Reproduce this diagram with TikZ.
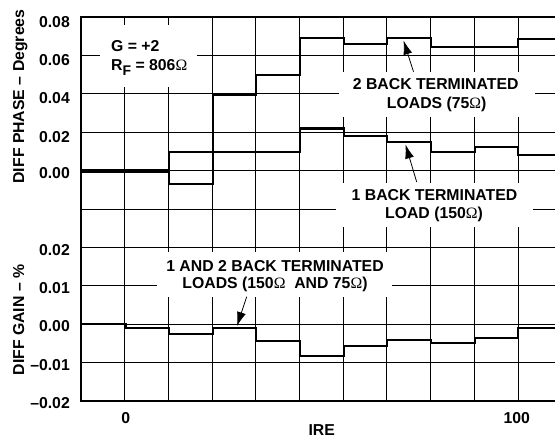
\documentclass[tikz,border=0pt]{standalone}
\usepackage{fontspec}
\setmainfont{Liberation Sans}
\newfontfamily\omfont{Liberation Serif}
\usetikzlibrary{arrows.meta}
\newcommand{\Om}{{\omfont\mdseries Ω}}
\begin{document}
\begin{tikzpicture}[x=1pt,y=-1pt,
  lbl/.style={font=\fontsize{15.8}{18}\selectfont\bfseries, inner sep=0pt},
  gridline/.style={line width=1pt},
  frameline/.style={line width=2.2pt},
  curve/.style={line width=2.2pt, line join=miter},
  whitebox/.style={fill=white, draw=none, inner sep=0pt},
  pointer/.style={line width=0.8pt, -{Latex[length=14pt,width=9pt]}}]
\useasboundingbox (0,0) rectangle (555,437);
\clip (0,0) rectangle (555,437);
% grid
\foreach \k in {1,...,9} \draw[gridline] (81,{17+38.4*\k}) -- (556,{17+38.4*\k});
\foreach \k in {1,...,10} \draw[gridline] ({81+43.7*\k},17) -- ({81+43.7*\k},401);
% white label boxes
\node[whitebox, minimum width=97pt, minimum height=62pt] (gbox) at (148.5,56) {};
\node[whitebox, minimum width=196pt, minimum height=45pt] (box2) at (437,94.2) {};
\node[whitebox, minimum width=197pt, minimum height=44pt] (box1) at (434.5,205) {};
\node[whitebox, minimum width=235pt, minimum height=45pt] (box12) at (274.5,274.5) {};
% curves
\draw[curve] (81,170.3) -- (169,170.3) -- (169,184) -- (213,184) -- (213,94.7) -- (256,94.7) -- (256,75.3) -- (300,75.3) -- (300,38.3) -- (343.7,38.3) -- (343.7,43.7) -- (387.3,43.7) -- (387.3,38.3) -- (431.3,38.3) -- (431.3,46.7) -- (518,46.7) -- (518,39.3) -- (556,39.3);
\draw[curve] (81,172.3) -- (169,172.3) -- (169,151.7) -- (300,151.7) -- (300,127.7) -- (343.7,127.7) -- (343.7,136.3) -- (387.3,136.3) -- (387.3,142.3) -- (431.3,142.3) -- (431.3,151.7) -- (474.7,151.7) -- (474.7,147) -- (518,147) -- (518,154.7) -- (556,154.7);
\draw[curve] (300,128.7) -- (343.7,128.7);
\draw[curve] (81,324.3) -- (126,324.3) -- (126,328.3) -- (169,328.3) -- (169,334.3) -- (213,334.3) -- (213,328.3) -- (256,328.3) -- (256,340.7) -- (300,340.7) -- (300,355.7) -- (343.7,355.7) -- (343.7,346.3) -- (387.3,346.3) -- (387.3,339.7) -- (431.3,339.7) -- (431.3,343.3) -- (474.7,343.3) -- (474.7,338) -- (518,338) -- (518,328.3) -- (556,328.3);
% frame
\draw[frameline] (556,17) -- (81,17) -- (81,401) -- (556,401);
% tick labels
\node[lbl, anchor=base east] (p8) at (70,27.3) {0.08};
\node[lbl, anchor=base east] (p6) at (70,65.2) {0.06};
\node[lbl, anchor=base east] (p4) at (70,103.8) {0.04};
\node[lbl, anchor=base east] (p2) at (70,142.4) {0.02};
\node[lbl, anchor=base east] (p0) at (70,178.6) {0.00};
\node[lbl, anchor=base east] (g2) at (70,255) {0.02};
\node[lbl, anchor=base east] (g1) at (70,293.3) {0.01};
\node[lbl, anchor=base east] (g0) at (70,331.7) {0.00};
\node[lbl, anchor=base east] (gm1) at (70,370) {–0.01};
\node[lbl, anchor=base east] (gm2) at (70,408.3) {–0.02};
\node[lbl, anchor=base] (x0) at (125.7,423) {0};
\node[lbl, anchor=base] (x100) at (516.7,423) {100};
\node[lbl, anchor=base] (xlab) at (321.7,435) {IRE};
\node[lbl, anchor=base, rotate=90] (ylab1) at (24,96.5) {DIFF PHASE – Degrees};
\node[lbl, anchor=base, rotate=90] (ylab2) at (24,320) {DIFF GAIN – \%};
% annotations
\node[lbl, anchor=base west] (gtxt) at (111,51.7) {G = +2};
\node[lbl, anchor=base west] (rtxt) at (111,70) {R\raisebox{-5pt}{\fontsize{14}{14}\selectfont F} = 806\Om};
\node[lbl, anchor=base] (t2a) at (435.7,89.3) {2 BACK TERMINATED};
\node[lbl, anchor=base] (t2b) at (436.7,108.3) {LOADS (75\Om)};
\node[lbl, anchor=base] (t1a) at (434.5,200) {1 BACK TERMINATED};
\node[lbl, anchor=base] (t1b) at (434,218.8) {LOAD (150\Om)};
\node[lbl, anchor=base] (t12a) at (275,271.7) {1 AND 2 BACK TERMINATED};
\node[lbl, anchor=base] (t12b) at (275,288.3) {LOADS (150\Om\ \ AND 75\Om)};
% pointers
\coordinate (a2s) at (413.5,71.7);
\coordinate (a2e) at (403.5,40.5);
\coordinate (a1s) at (416.7,182);
\coordinate (a1e) at (405.5,144.5);
\coordinate (a12s) at (246.7,296.7);
\coordinate (a12e) at (237,326);
\draw[pointer] (a2s) -- (a2e);
\draw[pointer] (a1s) -- (a1e);
\draw[pointer] (a12s) -- (a12e);
\end{tikzpicture}
\end{document}
